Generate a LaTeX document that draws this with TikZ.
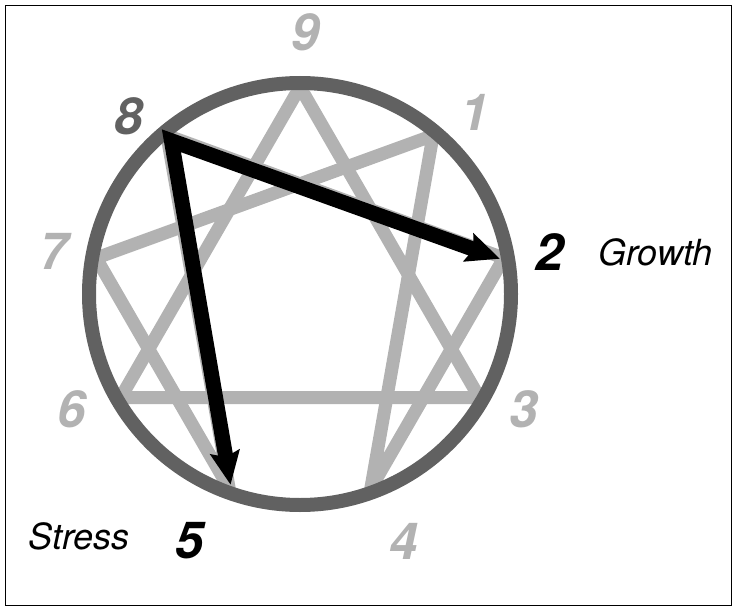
\documentclass[tikz,border=0pt]{standalone}
\usepackage{fontspec}
\setmainfont{TeX Gyre Heros}
\usetikzlibrary{arrows.meta}
\definecolor{ringgray}{gray}{0.38}
\definecolor{figgray}{gray}{0.70}
\begin{document}
\begin{tikzpicture}[x=1pt,y=-1pt,
  ring/.style={draw=ringgray, line width=14pt},
  figline/.style={draw=figgray, line width=13pt, line join=round},
  movearrow/.style={draw=black, line width=15pt, line join=miter,
    {Stealth[length=33pt,width=29pt,inset=5pt]}-{Stealth[length=33pt,width=29pt,inset=5pt]}},
  numlabel/.style={font=\fontsize{51}{51}\selectfont\bfseries\itshape, inner sep=0pt},
  wordlabel/.style={font=\fontsize{36}{36}\selectfont\itshape, inner sep=0pt, text=black}]
\useasboundingbox (0,0) rectangle (733,607);
\draw[line width=1.6pt] (5.5,5.5) rectangle (731.5,605.5);
\coordinate (c) at (300,294);
\foreach \n/\a in {9/90,1/50,2/10,3/-30,4/-70,5/-110,6/-150,7/170,8/130}{
  \coordinate (p\n) at ({300+207*cos(\a)},{294-207*sin(\a)});
  \coordinate (q\n) at ({300+203*cos(\a)},{294-203*sin(\a)});
}
\coordinate (k8) at ({300+200*cos(130)},{294-200*sin(130)});
% inner figure
\draw[figline] (p9) -- (p3) -- (p6) -- cycle;
\draw[figline] (p1) -- (p4) -- (p2) -- (p8) -- (p5) -- (p7) -- cycle;
% ring
\draw[ring] (c) circle (211);
% growth and stress arrows
\draw[movearrow] (q2) -- (k8) -- (q5);
% labels
\node[numlabel, text=figgray] (l9) at (306,32) {9};
\node[numlabel, text=figgray] (l1) at (475,112) {1};
\node[numlabel, text=black] (l2) at (550,252) {2};
\node[numlabel, text=figgray] (l3) at (524,409) {3};
\node[numlabel, text=figgray] (l4) at (404,541) {4};
\node[numlabel, text=black] (l5) at (190,541) {5};
\node[numlabel, text=figgray] (l6) at (72,409) {6};
\node[numlabel, text=figgray] (l7) at (54,251) {7};
\node[numlabel, text=ringgray] (l8) at (129,116) {8};
\node[wordlabel] (growth) at (655.5,252) {Growth};
\node[wordlabel] (stress) at (79,536) {Stress};
\end{tikzpicture}
\end{document}
